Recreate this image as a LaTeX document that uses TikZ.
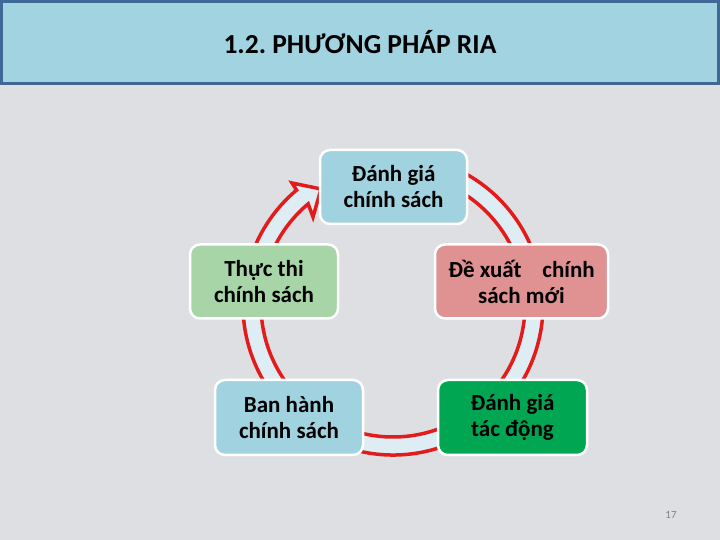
\documentclass[tikz,border=0pt]{standalone}
\usepackage{fontspec}
\setmainfont{Carlito}
\frenchspacing
\definecolor{bg}{HTML}{DDDFE3}
\definecolor{titlefill}{HTML}{A1D3E0}
\definecolor{titleborder}{HTML}{3F6897}
\definecolor{ringred}{HTML}{E41B1B}
\definecolor{ringfill}{HTML}{DEEDF4}
\definecolor{boxblue}{HTML}{A0D2DF}
\definecolor{boxlgreen}{HTML}{A7D5A7}
\definecolor{boxpink}{HTML}{E09292}
\definecolor{boxgreen}{HTML}{00A651}
\definecolor{pagegray}{HTML}{808080}
\begin{document}
\begin{tikzpicture}[x=1pt,y=1pt,
  box/.style={rounded corners=10pt, draw=white, line width=2.5pt,
    minimum width=148pt, minimum height=74pt, align=center, inner sep=2pt,
    font=\fontsize{23}{26}\selectfont\bfseries},
  ring/.style={draw=ringred, line width=3.5pt, fill=ringfill, line join=miter}]
\useasboundingbox (0,0) rectangle (720,540);
\fill[bg] (0,0) rectangle (720,540);
% title bar
\draw[draw=titleborder, line width=3pt, fill=titlefill] (1.5,538.5) rectangle (718.5,456.5);
\node[font=\fontsize{27.5}{32}\selectfont\bfseries] (title) at (360,498) {1.2. PHƯƠNG PHÁP RIA};
% cycle arrow
\begin{scope}[shift={(393,235)}]
\draw[ring] (75:150) arc[start angle=75, end angle=-230, radius=150]
  -- (-101,122) -- (-72,116) -- (-80,88) -- (130:132)
  arc[start angle=130, end angle=435, radius=132] -- cycle;
\end{scope}
% boxes
\node[box, fill=boxblue, minimum width=147pt] (eval) at (393.5,353) {Đánh giá\\chính sách};
\node[box, fill=boxlgreen] (impl) at (264,258.5) {Thực thi\\chính sách};
\node[box, fill=boxpink, minimum width=173pt] (prop) at (521.5,258.5) {Đề xuất\ \ \ \ chính\\sách mới};
\node[box, fill=boxblue, minimum height=75pt] (issue) at (289,122.5) {Ban hành\\chính sách};
\node[box, fill=boxgreen, minimum width=149pt, minimum height=75pt] (impact) at (512.5,122.5) {Đánh giá\\tác động};
% page number
\node[font=\fontsize{11}{13}\selectfont, text=pagegray] (page) at (671,25) {17};
\end{tikzpicture}
\end{document}
